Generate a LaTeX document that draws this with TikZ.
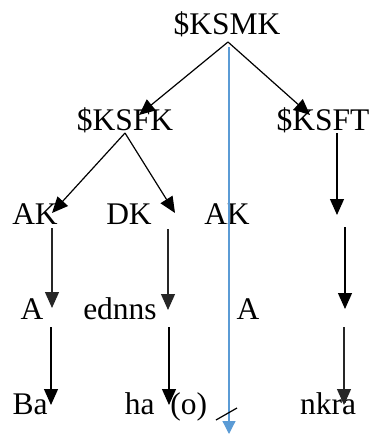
\documentclass[tikz,border=0pt]{standalone}
\usepackage{fontspec}
\setmainfont{Liberation Serif}
\usetikzlibrary{arrows.meta}
\definecolor{bluel}{HTML}{5B9BD5}
\begin{document}
\begin{tikzpicture}[x=1pt,y=-1pt,
  lbl/.style={anchor=base,inner sep=0pt,font=\fontsize{31.5}{31.5}\selectfont},
  arr/.style={draw=black,line width=1.2pt,-{Triangle[length=16pt,width=14pt]}},
  garr/.style={arr,draw=black!85},
  barr/.style={draw=bluel,line width=1.2pt,-{Triangle[length=13pt,width=13pt,fill=bluel]}}]
\useasboundingbox (0,0) rectangle (372,434);
% text nodes
\node[lbl] (ksmk) at (227,34) {\$KSMK};
\node[lbl] (ksfk) at (125,130) {\$KSFK};
\node[lbl] (ksft) at (323,130) {\$KSFT};
\node[lbl] (ak1) at (35,224) {AK};
\node[lbl] (dk) at (129,224) {DK};
\node[lbl] (ak2) at (227,224) {AK};
\node[lbl] (a1) at (32,319) {A};
\node[lbl] (ednns) at (120,319) {ednns};
\node[lbl] (a2) at (248,319) {A};
\node[lbl] (ba) at (30,414) {Ba};
\node[lbl] (hao) at (166,414) {ha\ \ (o)};
\node[lbl] (nkra) at (328,414) {nkra};
% connector end points
\coordinate (s1) at (228,42);
\coordinate (t1) at (139,115);
\coordinate (t2) at (310,115);
\coordinate (s2) at (125,133);
\coordinate (t3) at (52,213);
\coordinate (t4) at (175,213);
\coordinate (s5) at (337,133);
\coordinate (t5) at (337,215);
\coordinate (s6) at (52,228);
\coordinate (t6) at (52,308);
\coordinate (s7) at (168,229);
\coordinate (t7) at (168,310);
\coordinate (s8) at (345,227);
\coordinate (t8) at (345,309);
\coordinate (s9) at (51,327);
\coordinate (t9) at (51,405);
\coordinate (s10) at (169,327);
\coordinate (t10) at (169,405);
\coordinate (s11) at (344,327);
\coordinate (t11) at (344,405);
\coordinate (bs) at (229,47);
\coordinate (bt) at (229,434);
\coordinate (k1) at (216,420);
\coordinate (k2) at (237,408);
% connectors
\draw[arr] (s1) -- (t1);
\draw[arr] (s1) -- (t2);
\draw[arr] (s2) -- (t3);
\draw[arr] (s2) -- (t4);
\draw[arr] (s5) -- (t5);
\draw[garr] (s6) -- (t6);
\draw[garr] (s7) -- (t7);
\draw[arr] (s8) -- (t8);
\draw[arr] (s9) -- (t9);
\draw[arr] (s10) -- (t10);
\draw[garr] (s11) -- (t11);
\draw[barr] (bs) -- (bt);
\draw[line width=1.2pt] (k1) -- (k2);
\end{tikzpicture}
\end{document}
